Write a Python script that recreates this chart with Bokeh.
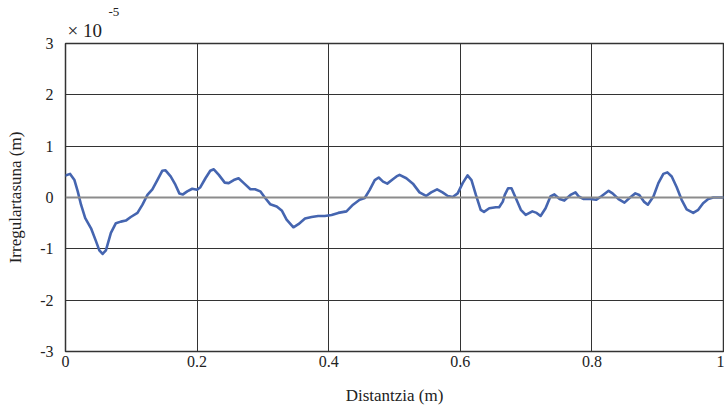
from bokeh.plotting import figure
from bokeh.models import Span, FixedTicker, Title
from bokeh.embed import file_html
from bokeh.resources import INLINE

# Distance (m)
distance = [0.000, 0.007, 0.0136, 0.0186, 0.0236, 0.030, 0.0388, 0.0463, 0.0514, 0.0564,
            0.0614, 0.069, 0.0766, 0.0841, 0.0917, 0.0992, 0.1094, 0.117, 0.1245, 0.132,
            0.1396, 0.147, 0.152, 0.1598, 0.167, 0.173, 0.1785, 0.185, 0.1926, 0.200,
            0.205, 0.2127, 0.220, 0.2254, 0.233, 0.242, 0.248, 0.2557, 0.263, 0.271,
            0.281, 0.288, 0.296, 0.3035, 0.311, 0.321, 0.329, 0.336, 0.3464, 0.354,
            0.364, 0.374, 0.384, 0.394, 0.4044, 0.4145, 0.427, 0.437, 0.447, 0.4548,
            0.4623, 0.470, 0.476, 0.4826, 0.489, 0.497, 0.503, 0.5077, 0.518, 0.528,
            0.538, 0.548, 0.5557, 0.5647, 0.573, 0.581, 0.5885, 0.596, 0.6036, 0.611,
            0.617, 0.6237, 0.631, 0.636, 0.644, 0.654, 0.659, 0.6646, 0.6676, 0.6726,
            0.6778, 0.6843, 0.692, 0.6994, 0.7095, 0.716, 0.722, 0.7296, 0.737, 0.743,
            0.751, 0.758, 0.7675, 0.775, 0.780, 0.7876, 0.7977, 0.8063, 0.815, 0.8254,
            0.8314, 0.8404, 0.8495, 0.858, 0.866, 0.872, 0.879, 0.885, 0.8935, 0.901,
            0.9086, 0.9147, 0.9213, 0.9289, 0.9364, 0.944, 0.954, 0.9616, 0.969, 0.9768,
            0.9844, 1.0]
# Irregularity (x 1e-5 m)
irregularity = [0.43, 0.46, 0.34, 0.12, -0.14, -0.40, -0.60, -0.85, -1.03, -1.10,
                -1.03, -0.69, -0.50, -0.47, -0.45, -0.38, -0.30, -0.14, 0.05, 0.16,
                0.34, 0.52, 0.53, 0.41, 0.25, 0.08, 0.06, 0.12, 0.17, 0.15,
                0.20, 0.375, 0.52, 0.55, 0.44, 0.29, 0.28, 0.34, 0.375, 0.28,
                0.16, 0.16, 0.12, -0.01, -0.13, -0.175, -0.26, -0.43, -0.58, -0.52,
                -0.41, -0.38, -0.36, -0.36, -0.34, -0.30, -0.27, -0.14, -0.045, -0.01,
                0.15, 0.34, 0.39, 0.31, 0.27, 0.35, 0.41, 0.44, 0.375, 0.27,
                0.10, 0.03, 0.10, 0.16, 0.10, 0.03, 0.01, 0.08, 0.28, 0.43,
                0.34, 0.05, -0.24, -0.28, -0.21, -0.19, -0.19, -0.08, 0.05, 0.18,
                0.18, -0.01, -0.24, -0.34, -0.27, -0.30, -0.36, -0.21, 0.02, 0.06,
                -0.03, -0.06, 0.05, 0.10, 0.02, -0.03, -0.03, -0.045, 0.03, 0.13,
                0.08, -0.03, -0.10, 0.0, 0.08, 0.05, -0.08, -0.14, 0.02, 0.28,
                0.46, 0.49, 0.41, 0.20, -0.045, -0.23, -0.30, -0.24, -0.11, -0.03,
                0.0, 0.0]

x_ticks = [0, 0.2, 0.4, 0.6, 0.8, 1]
x_tick_labels = ["0", "0.2", "0.4", "0.6", "0.8", "1"]
y_ticks = [-3, -2, -1, 0, 1, 2, 3]
y_tick_labels = ["-3", "-2", "-1", "0", "1", "2", "3"]
scale_base = "× 10"
scale_exp = "-5"

FONT = "Liberation Serif"
TXT = "#222222"

p = figure(width=724, height=411, x_range=(0, 1), y_range=(-3, 3),
           output_backend="svg", toolbar_location=None,
           min_border_left=65, min_border_right=1, min_border_top=43, min_border_bottom=60)

p.line(distance, irregularity, line_color="#4565B0", line_width=2.6,
       line_join="round", line_cap="round")

xa = p.xaxis[0]
ya = p.yaxis[0]
xa.ticker = FixedTicker(ticks=x_ticks)
ya.ticker = FixedTicker(ticks=y_ticks)
xa.major_label_overrides = {t: l for t, l in zip(x_ticks, x_tick_labels)}
ya.major_label_overrides = {t: l for t, l in zip(y_ticks, y_tick_labels)}

for ax in (xa, ya):
    ax.axis_line_color = None
    ax.major_tick_line_color = None
    ax.minor_tick_line_color = None
    ax.major_tick_out = 0
    ax.major_tick_in = 0
    ax.minor_tick_out = 0
    ax.minor_tick_in = 0
    ax.major_label_text_font = FONT
    ax.major_label_text_font_size = "16px"
    ax.major_label_text_color = TXT
    ax.axis_label_text_font = FONT
    ax.axis_label_text_font_size = "17px"
    ax.axis_label_text_font_style = "normal"
    ax.axis_label_text_color = TXT

xa.axis_label = "Distantzia (m)"
ya.axis_label = "Irregulartasuna (m)"
xa.major_label_standoff = 4
ya.major_label_standoff = 12
xa.axis_label_standoff = 16
ya.axis_label_standoff = 12

p.xgrid.grid_line_color = "#333333"
p.ygrid.grid_line_color = "#333333"
p.xgrid.grid_line_width = 1
p.ygrid.grid_line_width = 1

p.add_layout(Span(location=0, dimension="width", line_color="#8c8c8c", line_width=2))

p.outline_line_color = "#333333"
p.outline_line_width = 1.5
p.background_fill_color = "white"
p.border_fill_color = "white"

t1 = Title(text=scale_base, align="left", offset=2, standoff=5,
           text_font=FONT, text_font_size="19px", text_font_style="normal", text_color=TXT)
t2 = Title(text=scale_exp, align="left", offset=43, standoff=0,
           text_font=FONT, text_font_size="13px", text_font_style="normal", text_color=TXT)
p.add_layout(t1, "above")
p.add_layout(t2, "above")

open("out.html", "w").write(file_html(p, INLINE))
